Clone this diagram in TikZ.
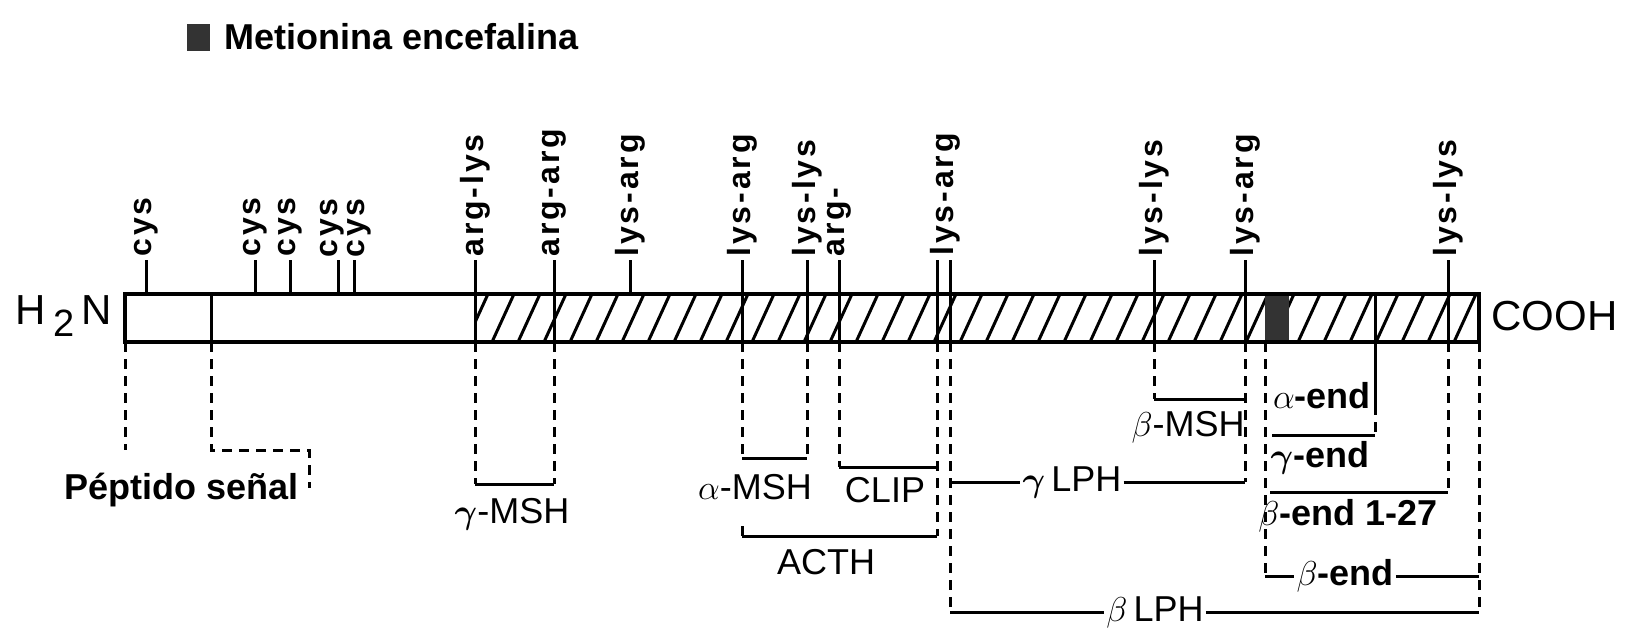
\documentclass[tikz,border=0pt]{standalone}
\usepackage{fontspec}
\usepackage{amsmath}
\setmainfont{Liberation Sans}
\usetikzlibrary{positioning}
\begin{document}
\begin{tikzpicture}[x=0.5pt,y=-0.5pt,
    bar/.style={line width=1.9pt},
    cut/.style={line width=1.5pt},
    dsh/.style={line width=1.5pt, dash pattern=on 5pt off 3.5pt},
    site/.style={rotate=90, anchor=west, inner sep=1pt, font=\bfseries\fontsize{16}{18}\selectfont\addfontfeatures{LetterSpace=9}},
    lab/.style={inner sep=1pt, font=\fontsize{18}{20}\selectfont},
    blab/.style={inner sep=1pt, font=\bfseries\fontsize{18}{20}\selectfont},
    term/.style={inner sep=1pt, font=\fontsize{21}{24}\selectfont}
]
    \useasboundingbox (0,0) rectangle (1633,639);

    % legend
    \node[blab, anchor=west] (leg) at (222,37) {Metionina encefalina};
    \node[fill=black!80, minimum width=11.5pt, minimum height=13.5pt, inner sep=0pt, left=6pt of leg] (legbox) {};

    % precursor chain
    \begin{scope}
        \clip (475,294) rectangle (1479,342);
        \foreach \x in {466,492,...,1500}
            \draw[cut] (\x,342) -- ++(22,-48);
    \end{scope}
    \fill[black!80] (1265,294) rectangle (1289,342);
    \draw[bar] (125,294) rectangle (1479,342);
    \node[term, anchor=east] (nterm) at (114,316) {H\,\raisebox{-0.55ex}{\fontsize{19}{20}\selectfont 2}\,N};
    \node[term, anchor=west] (cterm) at (1489,316) {COOH};

    % cleavage sites
    \foreach \x/\lbl in {146/cys,255/cys,290/cys,475/arg-lys,554/arg-arg,630/lys-arg,742/lys-arg,807/lys-lys,839/arg-,1154/lys-lys,1245/lys-arg,1448/lys-lys}
        \draw[cut] (\x,294) -- (\x,260) node[site] (s\x) {\lbl};
    \draw[cut] (338,294) -- (338,260);
    \draw[cut] (354,294) -- (354,260);
    \node[site] (s338) at (332,260) {cys};
    \node[site] (s354) at (359,260) {cys};
    \draw[cut] (937,294) -- (937,260);
    \draw[cut] (950,294) -- (950,260);
    \node[site] (s944) at (945,258) {lys-arg};
    \foreach \x in {211,475,554,742,807,839,937,950,1154,1245,1375,1448}
        \draw[cut] (\x,294) -- (\x,342);

    \foreach \n/\x in {nt/125,sp/211,k1/475,k2/554,k4/742,k5/807,k6/839,k7/937,k8/950,k9/1154,k10/1245,me/1265,ae/1375,k11/1448,ct/1479}
        \coordinate (\n) at (\x,342);

    % signal peptide
    \draw[dsh] (nt) -- (nt |- 0,450);
    \draw[dsh] (sp) -- (sp |- 0,450) -| (309,488);
    \node[blab, anchor=east] (sig) at (301,490) {Péptido señal};

    % gamma-MSH
    \draw[dsh] (k1) -- (k1 |- 0,484) coordinate (g1);
    \draw[dsh] (k2) -- (k2 |- 0,484) coordinate (g2);
    \draw[cut] (g1) -- (g2);
    \node[lab] (gmsh) at (512,514) {$\boldsymbol\gamma$-MSH};

    % alpha-MSH
    \draw[dsh] (k4) -- (k4 |- 0,458) coordinate (a1);
    \draw[dsh] (k5) -- (k5 |- 0,458) coordinate (a2);
    \draw[cut] (a1) -- (a2);
    \node[lab] (amsh) at (755,487) {$\alpha$-MSH};

    % CLIP and ACTH
    \draw[dsh] (k6) -- (k6 |- 0,467) coordinate (c1);
    \draw[cut] (c1) -- (k7 |- 0,467);
    \node[lab] (clip) at (885,490) {CLIP};
    \draw[dsh] (k7) -- (k7 |- 0,536) coordinate (h2);
    \draw[dsh] (k4 |- 0,526) -- (k4 |- 0,536) coordinate (h1);
    \draw[cut] (h1) -- (h2);
    \node[lab] (acth) at (826,562) {ACTH};

    % gamma-LPH, beta-LPH
    \node[lab] (glph) at (1072,482) {$\boldsymbol\gamma$\,LPH};
    \draw[cut] (k8 |- glph) -- (glph);
    \draw[cut] (glph) -- (k10 |- glph);
    \draw[dsh] (k10) -- (k10 |- glph);
    \node[lab] (blph) at (1155,612) {$\beta$\,LPH};
    \draw[dsh] (k8) -- (k8 |- blph);
    \draw[cut] (k8 |- blph) -- (blph);
    \draw[cut] (blph) -- (ct |- blph);
    \draw[dsh] (ct) -- (ct |- blph);

    % beta-MSH
    \draw[dsh] (k9) -- (k9 |- 0,399) coordinate (m1);
    \draw[cut] (m1) -- (k10 |- 0,399);
    \node[lab] (bmsh) at (1188,427) {$\beta$-MSH};

    % endorphins
    \draw[cut] (ae) -- (ae |- 0,405);
    \draw[dsh] (ae |- 0,405) -- (ae |- 0,435);
    \draw[cut] (1272,435) -- (ae |- 0,435);
    \node[blab] (aend) at (1322,396) {$\alpha$-end};
    \draw[dsh] (k11) -- (k11 |- 0,492);
    \draw[cut] (1270,492) -- (k11 |- 0,492);
    \node[blab] (gend) at (1320,458) {$\boldsymbol\gamma$-end};
    \node[blab] (b27) at (1348,516) {$\beta$-end 1-27};
    \node[blab] (bend) at (1345,576) {$\beta$-end};
    \draw[dsh] (me) -- (me |- bend);
    \draw[cut] (me |- bend) -- (bend);
    \draw[cut] (bend) -- (ct |- bend);
\end{tikzpicture}
\end{document}
